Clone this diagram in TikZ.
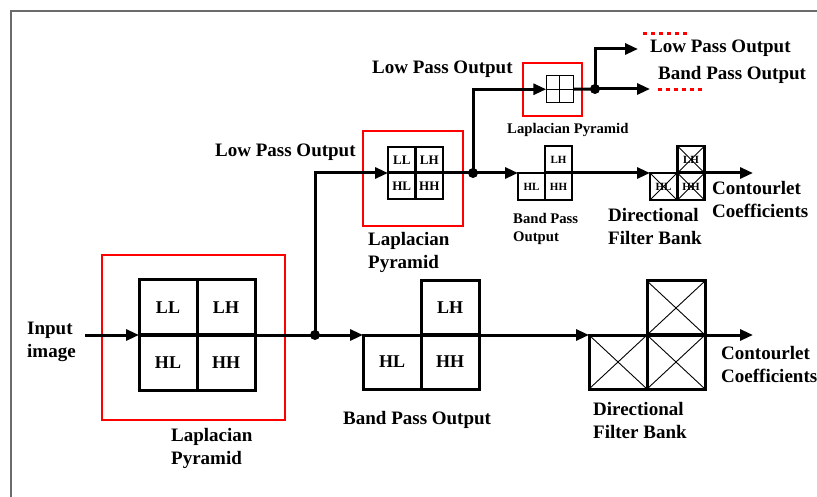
\documentclass[tikz,border=0pt]{standalone}
\usepackage{fontspec}
\setmainfont{Liberation Serif}
\usetikzlibrary{arrows.meta}
\tikzset{
  sig/.style={line width=3pt},
  arr/.style={sig,-{Triangle[length=13pt,width=11pt]}},
  redbox/.style={draw=red,line width=1.6pt},
  lbl/.style={font=\fontsize{19}{23}\selectfont\bfseries,inner sep=0pt,align=left,anchor=west},
  lblsmall/.style={font=\fontsize{14.7}{18}\selectfont\bfseries,inner sep=0pt,align=left,anchor=west},
  cellbase/.style={draw,inner sep=0pt,outer sep=0pt},
  cellbig/.style={cellbase,line width=3pt,minimum width=58pt,minimum height=54pt,font=\fontsize{18}{18}\selectfont\bfseries},
  cellmed/.style={cellbase,line width=2.5pt,minimum width=27.5pt,minimum height=26pt,font=\fontsize{13}{13}\selectfont\bfseries},
  cellsml/.style={cellbase,line width=2.5pt,minimum width=27pt,minimum height=27pt,font=\fontsize{11}{11}\selectfont\bfseries},
  celltiny/.style={cellbase,line width=1.3pt,minimum width=13.5pt,minimum height=13.5pt},
  xcell/.style={path picture={\draw[line width=0.9pt]
     (path picture bounding box.north west) -- (path picture bounding box.south east)
     (path picture bounding box.north east) -- (path picture bounding box.south west);}},
  framegray/.style={draw=black!58,line width=2pt},
  reddots/.style={draw=red,line width=3pt,dash pattern=on 4pt off 4pt}
}
\begin{document}
\begin{tikzpicture}[x=1pt,y=-1pt]
\useasboundingbox (0,0) rectangle (817,497);
\fill[white] (0,0) rectangle (817,497);
\draw[framegray] (817,11) -- (11,11) -- (11,497);

% ---------- red boxes ----------
\draw[redbox] (102,255) rectangle (285,420);
\draw[redbox] (363,131) rectangle (463,226);
\draw[redbox] (523,63) rectangle (582,116);

% ---------- stage 1 grid ----------
\node[cellbig,minimum height=55pt] (gLL) at (168,307.5) {LL};
\node[cellbig,minimum height=55pt] (gLH) at (226,307.5) {LH};
\node[cellbig,minimum height=55pt] (gHL) at (168,362.5) {HL};
\node[cellbig,minimum height=55pt] (gHH) at (226,362.5) {HH};

% band pass big
\node[cellbig] (bHL) at (392,362) {HL};
\node[cellbig] (bLH) at (450,308) {LH};
\node[cellbig] (bHH) at (450,362) {HH};

% DFB big
\node[cellbig,xcell] (fLL) at (618,362) {};
\node[cellbig,xcell] (fLH) at (676,308) {};
\node[cellbig,xcell] (fHH) at (676,362) {};

% ---------- stage 2 grid ----------
\node[cellmed] (mLL) at (401.75,160) {LL};
\node[cellmed] (mLH) at (429.25,160) {LH};
\node[cellmed] (mHL) at (401.75,186) {HL};
\node[cellmed] (mHH) at (429.25,186) {HH};

% band pass small
\node[cellsml] (sHL) at (531.5,186.5) {HL};
\node[cellsml] (sLH) at (558.5,159.5) {LH};
\node[cellsml] (sHH) at (558.5,186.5) {HH};

% DFB small
\node[cellsml,xcell] (tHL) at (663.5,186.5) {HL};
\node[cellsml,xcell] (tLH) at (691,159.5) {LH};
\node[cellsml,xcell] (tHH) at (691,186.5) {HH};

% ---------- stage 3 grid ----------
\node[celltiny] (uLL) at (553,82.5) {};
\node[celltiny] (uLH) at (566.5,82.5) {};
\node[celltiny] (uHL) at (553,96) {};
\node[celltiny] (uHH) at (566.5,96) {};

% ---------- coordinates ----------
\coordinate (in) at (85,335);
\coordinate (d1) at (315,335);
\coordinate (d2) at (473,173);
\coordinate (d3) at (595,89);
\coordinate (cc1) at (753,335);
\coordinate (cc2) at (753,173);
\coordinate (lpo) at (638,49);
\coordinate (bpo) at (650,89);

% ---------- connectors ----------
\draw[arr] (in) -- (gLL.south west);
\draw[line width=3.6pt] (gLL.south west) -- (gLH.south east);
\draw[sig] (gLH.south east) -- (d1);
\draw[arr] (d1) -- (bHL.north west);
\draw[line width=3.6pt] (bLH.south west) -- (bLH.south east);
\draw[arr] (bLH.south east) -- (fLL.north west);
\draw[line width=3.6pt] (fLH.south west) -- (fLH.south east);
\draw[arr] (fLH.south east) -- (cc1);

\draw[arr] (d1) |- (mLL.south west);
\draw[line width=3pt] (mLL.south west) -- (mLH.south east);
\draw[sig] (mLH.south east) -- (d2);
\draw[arr] (d2) -- (sHL.north west);
\draw[line width=3pt] (sLH.south west) -- (sLH.south east);
\draw[arr] (sLH.south east) -- (tHL.north west);
\draw[line width=3pt] (tLH.south west) -- (tLH.south east);
\draw[arr] (tLH.south east) -- (cc2);

\draw[arr] (d2) |- (uLL.south west);
\draw[sig] (uLH.south east) -- (d3);
\draw[arr] (d3) -- (bpo);
\draw[arr] (d3) |- (lpo);

\foreach \p in {d1,d2,d3} \fill (\p) circle (5pt);

% ---------- labels ----------
\node[lbl] (tin) at (27,342) {Input\\image};
\node[lbl] (tlp1) at (171,448) {Laplacian\\Pyramid};
\node[lbl] (tbp1) at (343,420) {Band Pass Output};
\node[lbl] (tdf1) at (593,420) {Directional\\Filter Bank};
\node[lbl] (tcc1) at (721,364) {Contourlet\\Coefficients};

\node[lbl] (tlo2) at (215,152) {Low Pass Output};
\node[lbl] (tlp2) at (368,252) {Laplacian\\Pyramid};
\node[lblsmall] (tbp2) at (513,229) {Band Pass\\Output};
\node[lbl] (tdf2) at (608,227) {Directional\\Filter Bank};
\node[lbl] (tcc2) at (712,200) {Contourlet\\Coefficients};

\node[lbl] (tlo3) at (372,69) {Low Pass Output};
\node[lblsmall] (tlp3) at (507,130) {Laplacian Pyramid};
\node[lbl] (tlo4) at (650,48) {Low Pass Output};
\node[lbl] (tbo4) at (658,75) {Band Pass Output};

\draw[reddots] (643,34) -- (687,34);
\draw[reddots] (658,90) -- (702,90);
\end{tikzpicture}
\end{document}
